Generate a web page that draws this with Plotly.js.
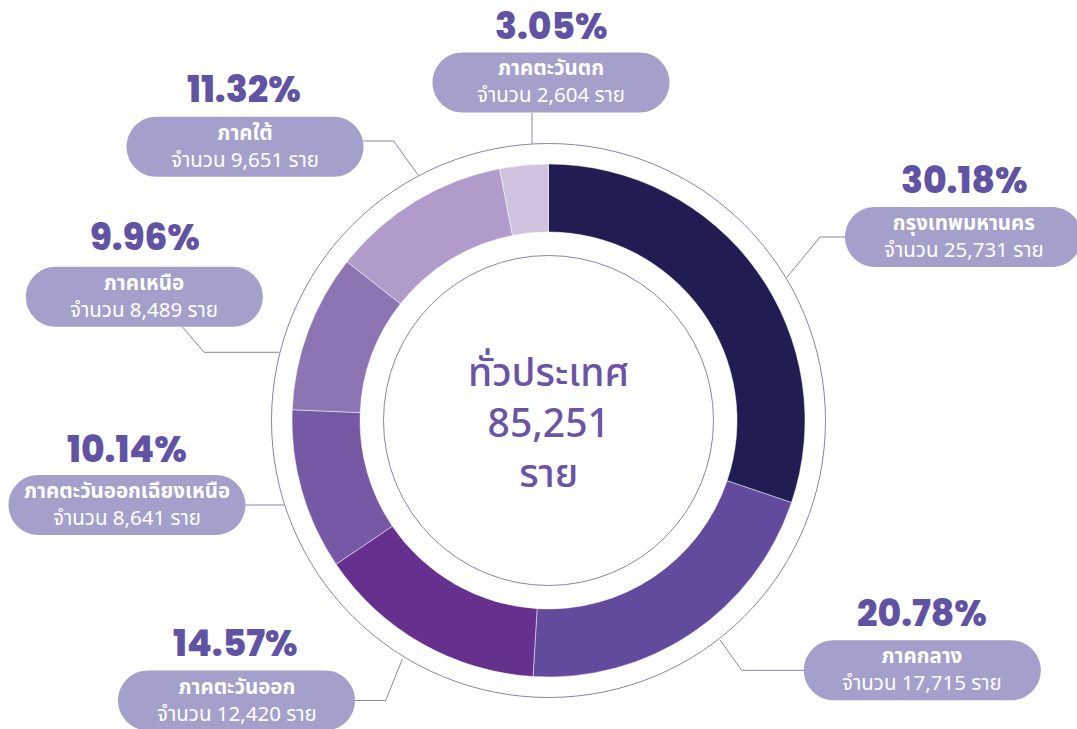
<!DOCTYPE html>
<html><head><meta charset="utf-8">
<script src="https://cdn.plot.ly/plotly-3.0.1.min.js"></script>
<style>html,body{margin:0;padding:0;background:#fff;}#chart{width:1077px;height:729px;}</style>
</head><body><div id="chart"></div>
<script>
// ---- data ----
const regions = ['กรุงเทพมหานคร','ภาคกลาง','ภาคตะวันออก','ภาคตะวันออกเฉียงเหนือ','ภาคเหนือ','ภาคใต้','ภาคตะวันตก'];
const counts  = [25731, 17715, 12420, 8641, 8489, 9651, 2604];
const centerTitle = 'ทั่วประเทศ';
const countPrefix = 'จำนวน';
const unit = 'ราย';

// ---- styles ----
const sliceColors = ['#211d52','#624a9d','#66308e','#7659a5','#8d75b4','#b09bcb','#d0c3e0'];
const W = 1077, H = 729;
const CX = 548.5, CY = 420.5, R = 256.5, HOLE_R = 188.5;
const OUTER_RING = 277, INNER_RING = 165;
const BOX_W = 237, BOX_H = 60;
const boxColor = '#a59fcb', pctColor = '#6153a4', lineColor = '#8a84a6', centerColor = '#6a54a3';
const thaiFont = "'Noto Sans Thai', 'Noto Sans Thai Looped', Prompt, Kanit, 'Noto Sans', sans-serif";
const pctFont = "Poppins, Inter, 'Noto Sans', sans-serif";

// callout placement (pixels): percentage label, box centre, leader polyline
const callouts = [
  {pct:[963.5,181], box:[963.5,237], leader:[[845.5,237],[820,237],[786.6,277.7]]},
  {pct:[922,613],   box:[922.3,670.3], leader:[[804,670.3],[741.7,670.3],[720,640]]},
  {pct:[235,643],   box:[236.5,700.5], leader:[[355,700.5],[385.7,700.5],[402.3,659.3]]},
  {pct:[127,449],   box:[127,505],   leader:[[245.5,505],[284,505]]},
  {pct:[144.5,238], box:[144.3,296.7], leader:[[182.5,327],[204.2,352.3],[279.5,352.3]]},
  {pct:[243.5,89],  box:[245,146.7], leader:[[363.5,141],[393.6,141],[418.4,175.5]]},
  {pct:[551,26.5],  box:[551,82.5],  leader:[[532,113],[532,143.5]]}
];

const px = x => x / W;
const py = y => 1 - y / H;
const P = (x, y) => px(x).toFixed(5) + ',' + py(y).toFixed(5);

const total = counts.reduce((a, b) => a + b, 0);
const fmt = n => n.toLocaleString('en-US');

function pillPath(cx, cy, w, h) {
  const r = h / 2, k = 0.5523 * r;
  const x0 = cx - w / 2 + r, x1 = cx + w / 2 - r, y0 = cy - r, y1 = cy + r;
  return 'M' + P(x0, y0) + ' L' + P(x1, y0) +
    ' C' + P(x1 + k, y0) + ' ' + P(x1 + r, cy - k) + ' ' + P(x1 + r, cy) +
    ' C' + P(x1 + r, cy + k) + ' ' + P(x1 + k, y1) + ' ' + P(x1, y1) +
    ' L' + P(x0, y1) +
    ' C' + P(x0 - k, y1) + ' ' + P(x0 - r, cy + k) + ' ' + P(x0 - r, cy) +
    ' C' + P(x0 - r, cy - k) + ' ' + P(x0 - k, y0) + ' ' + P(x0, y0) + ' Z';
}

const shapes = [];
const annotations = [];

// thin rings
[OUTER_RING, INNER_RING].forEach(r => shapes.push({
  type: 'circle', xref: 'paper', yref: 'paper',
  x0: px(CX - r), x1: px(CX + r), y0: py(CY + r), y1: py(CY - r),
  line: {color: lineColor, width: 1}
}));

regions.forEach((name, i) => {
  const c = callouts[i];
  shapes.push({type: 'path', xref: 'paper', yref: 'paper', path: pillPath(c.box[0], c.box[1], BOX_W, BOX_H),
    fillcolor: boxColor, line: {width: 0}});
  shapes.push({type: 'path', xref: 'paper', yref: 'paper',
    path: c.leader.map((p, j) => (j ? 'L' : 'M') + P(p[0], p[1])).join(' '),
    line: {color: lineColor, width: 1}});
  const pct = (counts[i] / total * 100).toFixed(2) + '%';
  annotations.push({xref: 'paper', yref: 'paper', x: px(c.pct[0]), y: py(c.pct[1]), showarrow: false,
    xanchor: 'center', yanchor: 'middle', text: pct,
    font: {family: pctFont, size: 36, color: pctColor, weight: 800}});
  annotations.push({xref: 'paper', yref: 'paper', x: px(c.box[0]), y: py(c.box[1]), showarrow: false,
    xanchor: 'center', yanchor: 'middle', align: 'center',
    text: '<b>' + name + '</b><br>' + countPrefix + ' ' + fmt(counts[i]) + ' ' + unit,
    font: {family: thaiFont, size: 20.5, color: '#ffffff', weight: 400}});
});

// centre text (one block, three lines)
annotations.push({
  xref: 'paper', yref: 'paper', x: px(CX), y: py(425), showarrow: false,
  xanchor: 'center', yanchor: 'middle', align: 'center',
  text: [centerTitle, fmt(total), unit].join('<br>'),
  font: {family: thaiFont, size: 39, color: centerColor, weight: 500}
});

const trace = {
  type: 'pie', labels: regions, values: counts, sort: false, direction: 'clockwise', rotation: 0,
  hole: HOLE_R / R, textinfo: 'none', hoverinfo: 'none', showlegend: false,
  marker: {colors: sliceColors, line: {color: 'rgba(255,255,255,0.6)', width: 0.8}},
  domain: {x: [px(CX - R), px(CX + R)], y: [py(CY + R), py(CY - R)]}
};

Plotly.newPlot('chart', [trace], {
  width: W, height: H, margin: {l: 0, r: 0, t: 0, b: 0},
  paper_bgcolor: '#ffffff', plot_bgcolor: '#ffffff', showlegend: false,
  shapes: shapes, annotations: annotations
}, {displayModeBar: false, staticPlot: true});
</script></body></html>
